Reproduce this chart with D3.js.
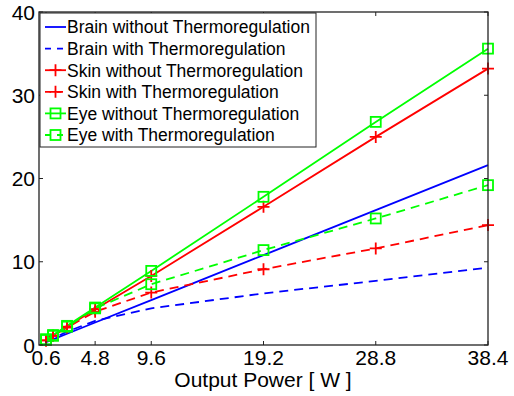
<!DOCTYPE html>
<html>
<head>
<meta charset="utf-8">
<script src="https://cdn.jsdelivr.net/npm/d3@7"></script>
<style>
  html, body { margin: 0; padding: 0; background: #fff; }
  svg { display: block; font-family: "Liberation Sans", Arial, sans-serif; }
</style>
</head>
<body>
<svg id="chart" width="514" height="396"></svg>
<script>
// Output power levels (W)
const power = [0.6, 1.2, 2.4, 4.8, 9.6, 19.2, 28.8, 38.4];
const xTickValues = [0.6, 4.8, 9.6, 19.2, 28.8, 38.4];
const yTickValues = [0, 10, 20, 30, 40];

// Temperature rise per tissue
const brainWithout = [0.34, 0.68, 1.35, 2.7, 5.4, 10.8, 16.2, 21.6];
const brainWith    = [0.4, 0.8, 1.6, 2.9, 4.4, 6.2, 7.7, 9.3];
const skinWithout  = [0.55, 1.1, 2.2, 4.3, 8.3, 16.6, 25.0, 33.2];
const skinWith     = [0.55, 1.1, 2.1, 4.0, 6.3, 9.1, 11.6, 14.4];
const eyeWithout   = [0.7, 1.2, 2.3, 4.5, 8.9, 17.8, 26.8, 35.6];
const eyeWith      = [0.6, 1.1, 2.2, 4.4, 7.3, 11.4, 15.2, 19.2];

const seriesNames = [
  "Brain without Thermoregulation",
  "Brain with Thermoregulation",
  "Skin without Thermoregulation",
  "Skin with Thermoregulation",
  "Eye without Thermoregulation",
  "Eye with Thermoregulation"
];

const series = [
  { name: seriesNames[0], values: brainWithout, color: "#0000ff", dashed: false, marker: null },
  { name: seriesNames[1], values: brainWith,    color: "#0000ff", dashed: true,  marker: null },
  { name: seriesNames[2], values: skinWithout,  color: "#ff0000", dashed: false, marker: "plus" },
  { name: seriesNames[3], values: skinWith,     color: "#ff0000", dashed: true,  marker: "plus" },
  { name: seriesNames[4], values: eyeWithout,   color: "#00ff00", dashed: false, marker: "square" },
  { name: seriesNames[5], values: eyeWith,      color: "#00ff00", dashed: true,  marker: "square" }
];

const svg = d3.select("#chart");
const plotLeft = 39, plotRight = 488, plotTop = 12, plotBottom = 345;

const x = d3.scaleLinear().domain([0, 38.4]).range([plotLeft, plotRight]);
const y = d3.scaleLinear().domain([0, 40]).range([plotBottom, plotTop]);

const DASH = "9,6";
const LW = 1.8;

// Data lines
const line = d3.line().x((d, i) => x(power[i])).y(d => y(d));
const plot = svg.append("g");
series.forEach(s => {
  plot.append("path")
    .datum(s.values)
    .attr("d", line)
    .attr("fill", "none")
    .attr("stroke", s.color)
    .attr("stroke-width", LW)
    .attr("stroke-dasharray", s.dashed ? DASH : null);
});

function drawMarker(g, type, cx, cy, color) {
  if (type === "plus") {
    const r = 6;
    g.append("path")
      .attr("d", `M${cx - r},${cy}H${cx + r}M${cx},${cy - r}V${cy + r}`)
      .attr("stroke", color).attr("stroke-width", LW).attr("fill", "none");
  } else if (type === "square") {
    const r = 5;
    g.append("rect")
      .attr("x", cx - r).attr("y", cy - r)
      .attr("width", 2 * r).attr("height", 2 * r)
      .attr("stroke", color).attr("stroke-width", LW).attr("fill", "none");
  }
}

series.forEach(s => {
  if (!s.marker) return;
  const g = plot.append("g");
  s.values.forEach((v, i) => drawMarker(g, s.marker, x(power[i]), y(v), s.color));
});

// Axes box with inward ticks
const axisColor = "#222";
const axes = svg.append("g");
axes.append("rect")
  .attr("x", plotLeft).attr("y", plotTop)
  .attr("width", plotRight - plotLeft).attr("height", plotBottom - plotTop)
  .attr("fill", "none").attr("stroke", axisColor).attr("stroke-width", 1.3);

const tickLen = 4;
xTickValues.forEach(v => {
  axes.append("line").attr("x1", x(v)).attr("x2", x(v))
    .attr("y1", plotBottom).attr("y2", plotBottom - tickLen)
    .attr("stroke", axisColor).attr("stroke-width", 1);
  axes.append("line").attr("x1", x(v)).attr("x2", x(v))
    .attr("y1", plotTop).attr("y2", plotTop + tickLen)
    .attr("stroke", axisColor).attr("stroke-width", 1);
  axes.append("text")
    .attr("x", x(v)).attr("y", plotBottom + 20)
    .attr("text-anchor", "middle")
    .attr("font-size", 21)
    .attr("fill", "#000")
    .text(d3.format(".1f")(v));
});

yTickValues.forEach(v => {
  axes.append("line").attr("x1", plotLeft).attr("x2", plotLeft + tickLen)
    .attr("y1", y(v)).attr("y2", y(v))
    .attr("stroke", axisColor).attr("stroke-width", 1);
  axes.append("line").attr("x1", plotRight).attr("x2", plotRight - tickLen)
    .attr("y1", y(v)).attr("y2", y(v))
    .attr("stroke", axisColor).attr("stroke-width", 1);
  axes.append("text")
    .attr("x", plotLeft - 4).attr("y", y(v))
    .attr("dy", "0.36em")
    .attr("text-anchor", "end")
    .attr("font-size", 21)
    .attr("fill", "#000")
    .text(v);
});

svg.append("text")
  .attr("x", 263).attr("y", 387)
  .attr("text-anchor", "middle")
  .attr("font-size", 21)
  .attr("fill", "#000")
  .text("Output Power [ W ]");

// Legend
const lx = 40, ly = 13, lw = 276, lh = 134, rowH = 21.6;
const legend = svg.append("g");
legend.append("rect")
  .attr("x", lx).attr("y", ly).attr("width", lw).attr("height", lh)
  .attr("fill", "#fff").attr("stroke", axisColor).attr("stroke-width", 1);

series.forEach((s, i) => {
  const cy = ly + 14 + i * rowH;
  legend.append("line")
    .attr("x1", lx + 5).attr("x2", lx + 26)
    .attr("y1", cy).attr("y2", cy)
    .attr("stroke", s.color).attr("stroke-width", LW)
    .attr("stroke-dasharray", s.dashed ? "6,6" : null);
  if (s.marker) drawMarker(legend, s.marker, lx + 15.5, cy, s.color);
  legend.append("text")
    .attr("x", lx + 27).attr("y", cy)
    .attr("dy", "0.36em")
    .attr("font-size", 17.5)
    .attr("fill", "#000")
    .text(s.name);
});
</script>
</body>
</html>
